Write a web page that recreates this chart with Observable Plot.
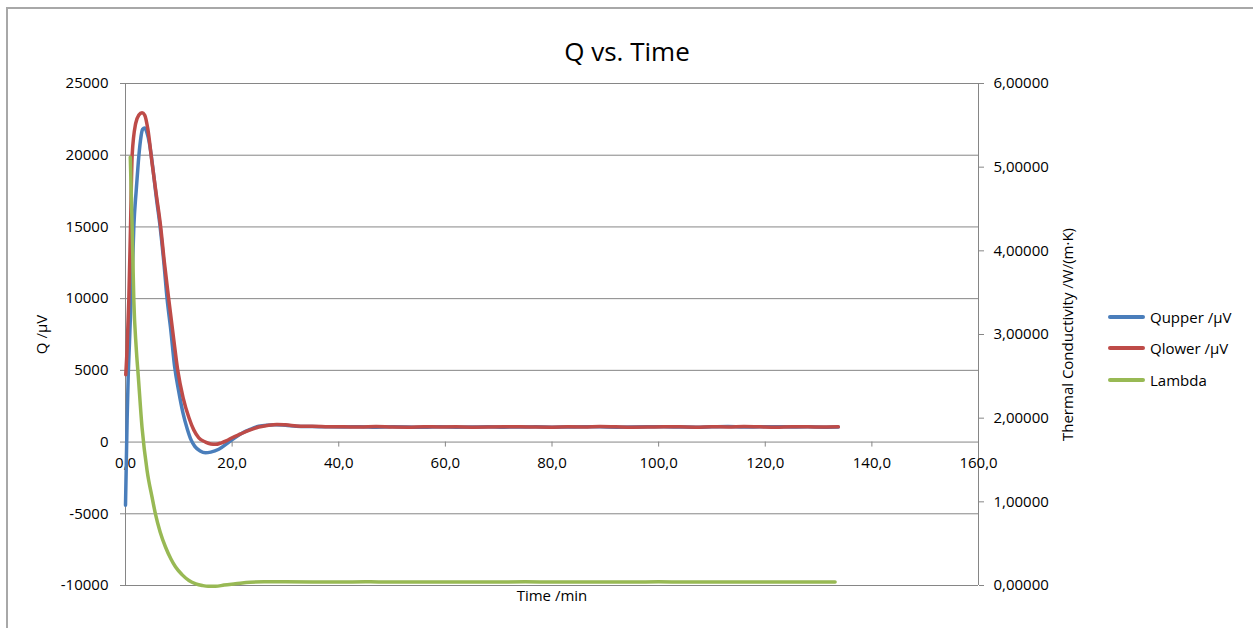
<!DOCTYPE html>
<html><head><meta charset="utf-8">
<script src="https://cdn.jsdelivr.net/npm/d3@7"></script>
<script src="https://cdn.jsdelivr.net/npm/@observablehq/plot@0.6"></script>
<style>
body{margin:0;background:#fff;}
#wrap{position:relative;width:1253px;height:628px;overflow:hidden;font-family:"Open Sans",sans-serif;color:#000;}
#frame{position:absolute;left:6px;top:7px;width:1400px;height:800px;border-left:2px solid #a8a8a8;border-top:2px solid #a8a8a8;}
#chart{position:absolute;left:0;top:0;}
#legend{position:absolute;left:1108px;top:301px;font-size:15px;}
.item{display:flex;align-items:center;height:31.5px;white-space:nowrap;}
.sw{width:37px;height:4px;border-radius:2px;margin-right:5px;}
</style></head>
<body><div id="wrap"><div id="frame"></div><div id="chart"></div><div id="legend"></div></div>
<script>
// ---- data ----
const seriesNames = ["Qupper /µV", "Qlower /µV", "Lambda"];
const seriesColors = ["#4a7ebb", "#be4b48", "#98b954"];

const tailTime = [35,38,41,44,47,50,53,56,59,62,65,68,71,74,77,80,83,86,89,92,95,98,101,104,107,110,113,116,119,122,125,128,131,133.7];

const timeUpper = [0,0.15,0.3,0.5,0.75,1.0,1.25,1.56,2.0,2.4,2.8,3.2,3.6,4.0,4.5,5.0,5.8,6.5,7.2,7.8,8.5,9.2,10.0,10.8,11.6,12.3,13.0,14.0,15.0,16.0,17.5,19.4,20.5,22.0,23.5,25.0,26.5,28.0,30.0,32.0].concat(tailTime);
const qUpper = [-4400,-1500,1500,4500,7000,9500,11500,15000,17500,19500,21000,21800,21900,21600,20800,19500,17000,15000,12500,10000,7800,5300,3500,2000,900,150,-300,-620,-750,-700,-500,0,300,650,900,1100,1180,1200,1170,1110,
  1080,1060,1050,1070,1040,1060,1050,1030,1060,1040,1050,1070,1040,1050,1060,1040,1050,1070,1060,1040,1050,1060,1070,1050,1040,1060,1080,1050,1060,1070,1050,1060,1040,1050];

const timeLower = [0.05,0.3,0.62,0.94,1.25,1.9,2.5,3.1,3.6,4.2,5.0,5.8,6.6,7.3,8.1,9.0,9.8,10.8,11.9,12.8,13.75,15.0,16.0,16.9,18.0,19.0,20.0,21.5,23.4,25.0,26.5,28.4,30.0,32.8].concat(tailTime);
const qLower = [4700,6500,9900,15000,20000,22200,22800,22960,22800,21800,19400,17200,15000,12500,10000,7300,5000,3100,1700,850,300,0,-130,-160,-50,100,300,550,850,1050,1150,1230,1200,1100,
  1100,1070,1060,1050,1080,1050,1040,1070,1050,1060,1040,1050,1060,1070,1050,1040,1060,1050,1080,1060,1040,1050,1070,1060,1040,1070,1050,1080,1060,1040,1070,1060,1050,1060];

const timeLambda = [0.9,1.25,1.56,2.0,2.4,3.1,4.06,5.0,5.6,6.5,7.5,8.5,9.4,10.6,11.9,13.2,14.4,15.5,16.9,18.5,20.6,23.4,26,30,35,40,45,50,55,60,65,70,75,80,85,90,95,100,105,110,115,120,125,130,133.1];
const lambda = [5.12,4.28,3.41,2.85,2.5,1.89,1.37,1.05,0.86,0.64,0.46,0.32,0.22,0.13,0.06,0.02,0.0,-0.01,-0.01,0.005,0.02,0.04,0.045,0.045,0.043,0.042,0.044,0.042,0.043,0.041,0.043,0.042,0.044,0.042,0.041,0.043,0.042,0.044,0.042,0.043,0.041,0.043,0.042,0.043,0.042];

const xTicks = [0,20,40,60,80,100,120,140,160];
const xTickLabels = ["0,0","20,0","40,0","60,0","80,0","100,0","120,0","140,0","160,0"];
const yTicks = [-10000,-5000,0,5000,10000,15000,20000,25000];
const yTickLabels = ["-10000","-5000","0","5000","10000","15000","20000","25000"];
const rightTicks = [0,1,2,3,4,5,6];
const rightTickLabels = ["0,00000","1,00000","2,00000","3,00000","4,00000","5,00000","6,00000"];

// ---- build ----
const Y0 = -10000, Y1 = 25000, L1 = 6;
const toQ = l => Y0 + l * (Y1 - Y0) / L1;
const upper = timeUpper.map((t, i) => ({t, v: qUpper[i]}));
const lower = timeLower.map((t, i) => ({t, v: qLower[i]}));
const lam = timeLambda.map((t, i) => ({t, v: toQ(lambda[i])}));
const grid = "#868686";

const chart = Plot.plot({
  width: 1253, height: 628,
  marginLeft: 125, marginRight: 275, marginTop: 83, marginBottom: 43,
  x: {domain: [0, 160], axis: null},
  y: {domain: [Y0, Y1]},
  style: {fontFamily: "Open Sans", fontSize: "15px", background: "transparent", overflow: "visible", color: "#000"},
  marks: [
    Plot.gridY({ticks: yTicks, stroke: grid, strokeOpacity: 1}),
    Plot.ruleX([0, 160], {stroke: grid}),
    Plot.axisY({ticks: yTicks, anchor: "left", tickSize: 5, tickPadding: 12, stroke: grid, fill: "#000",
      tickFormat: d => yTickLabels[yTicks.indexOf(d)], label: null}),
    Plot.axisY({ticks: rightTicks.map(toQ), anchor: "right", tickSize: 5, tickPadding: 10, stroke: grid, fill: "#000",
      tickFormat: (d, i) => rightTickLabels[i], label: null}),
    Plot.ruleX(xTicks, {x: d => d, y1: 0, y2: -350, stroke: grid}),
    Plot.text(xTicks, {x: d => d, y: 0, dy: 21, text: (d, i) => xTickLabels[i], fill: "#000"}),
    Plot.line(upper, {x: "t", y: "v", stroke: seriesColors[0], strokeWidth: 3.5, curve: "monotone-x", strokeLinecap: "round"}),
    Plot.line(lower, {x: "t", y: "v", stroke: seriesColors[1], strokeWidth: 3.5, curve: "monotone-x", strokeLinecap: "round"}),
    Plot.line(lam, {x: "t", y: "v", stroke: seriesColors[2], strokeWidth: 3.5, curve: "monotone-x", strokeLinecap: "round"}),
    Plot.text(["Q vs. Time"], {frameAnchor: "top", dx: 75, dy: -41, text: d => d, fontSize: 26, fill: "#000"}),
    Plot.text(["Q /µV"], {frameAnchor: "left", dx: -83, rotate: -90, textAnchor: "middle", text: d => d, fill: "#000"}),
    Plot.text(["Thermal Conductivity /W/(m·K)"], {frameAnchor: "right", dx: 90, rotate: -90, textAnchor: "middle", text: d => d, fill: "#000"}),
    Plot.text(["Time /min"], {frameAnchor: "bottom", dy: 15, text: d => d, fill: "#000"})
  ]
});
document.getElementById("chart").appendChild(chart);

const legend = document.getElementById("legend");
seriesNames.forEach((n, i) => {
  const it = document.createElement("div");
  it.className = "item";
  it.innerHTML = `<div class="sw" style="background:${seriesColors[i]}"></div><span>${n}</span>`;
  legend.appendChild(it);
});
</script>
</body></html>
